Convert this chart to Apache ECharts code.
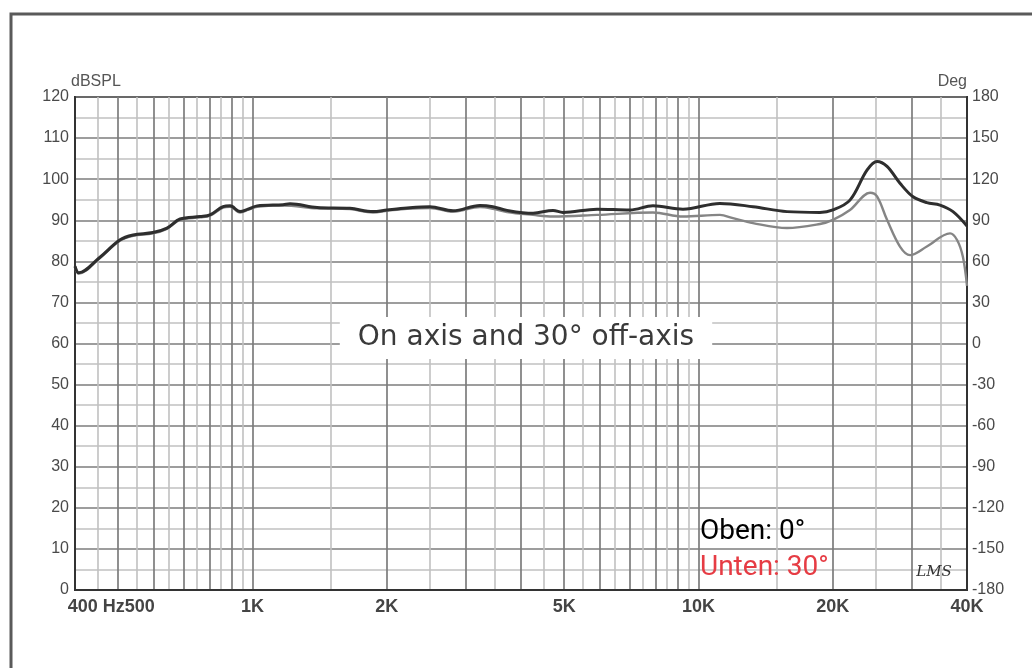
<!DOCTYPE html>
<html><head><meta charset="utf-8">
<script src="https://cdn.jsdelivr.net/npm/echarts@6/dist/echarts.min.js"></script>
<style>html,body{margin:0;padding:0;background:#fff}#c{width:1032px;height:668px}</style>
</head><body><div id="c"></div>
<script>
// 0° (Oben) frequency response
const freq0 = [400,408,455,504,540,598,643,688,763,803,859,891,938,977,1024,1171,1214,1396,1654,1863,2003,2221,2500,2816,3236,3460,3721,4256,4719,4968,5924,7020,7907,9232,11170,13250,15790,18720,20020,21860,23870,25140,26470,28300,30280,32510,34790,37210,40000];
const spl0  = [78.8,77.2,81.0,85.2,86.4,87.0,88.1,90.3,90.9,91.3,93.3,93.5,92.1,92.7,93.5,93.8,94.0,93.1,92.9,92.1,92.5,93.0,93.3,92.3,93.6,93.3,92.4,91.7,92.4,91.9,92.7,92.5,93.5,92.7,94.1,93.3,92.1,91.9,92.5,94.9,102.2,104.3,103.1,99.0,95.7,94.3,93.7,92.1,88.6];
// 30° (Unten) frequency response
const freq30 = [400,408,455,504,540,598,643,688,763,803,859,891,938,977,1024,1171,1396,1654,1863,2003,2221,2500,2816,3236,3460,3721,4256,4719,5924,7907,9232,11170,11950,13250,15790,18720,20020,21860,24250,25140,26470,28300,29810,32510,36640,38000,39160,40000];
const spl30  = [78.6,77.0,80.8,85.0,86.2,86.8,87.9,90.1,90.7,91.1,93.1,93.3,91.9,92.5,93.3,93.6,92.9,92.7,91.9,92.3,92.8,93.0,92.1,93.2,92.8,92.0,91.3,90.9,91.3,91.9,90.9,91.3,90.5,89.3,88.1,89.1,90.1,92.5,96.7,95.8,90.1,83.6,81.5,83.6,86.8,85.2,81.1,74.0];
// grid / tick positions (Hz)
const majorGridHz = [400,500,600,700,800,900,1000,2000,3000,4000,5000,6000,7000,8000,9000,10000,20000,30000,40000];
const minorGridHz = [450,550,650,750,850,950,1500,2500,3500,4500,5500,6500,7500,8500,9500,15000,25000,35000];
const xLabelHz = [500,1000,2000,5000,10000,20000,40000];
const xLabelText = ['400 Hz500','1K','2K','5K','10K','20K','40K'];
const legendTexts = ['Oben: 0°','Unten: 30°'];
const titleText = 'On axis and 30° off-axis';

const pairs = (f, v) => f.map((x, i) => [x, v[i]]);
const chart = echarts.init(document.getElementById('c'), null, {renderer:'canvas'});
const labelFont = {fontFamily:'"Liberation Sans", Arial, sans-serif'};
chart.setOption({
  backgroundColor:'#fff',
  animation:false,
  grid:{left:75,right:65,top:97,bottom:78,show:true,borderColor:'#333',borderWidth:2,backgroundColor:'transparent'},
  xAxis:[{
    type:'log', logBase:10, min:400, max:40000,
    axisLine:{show:true,lineStyle:{color:'#333',width:2}},
    axisTick:{show:false, customValues:majorGridHz},
    splitLine:{show:true,lineStyle:{color:'#7c7c7c',width:1.7}},
    axisLabel:{show:true, customValues:xLabelHz, margin:8, color:'#444', fontSize:18, fontWeight:'bold', ...labelFont,
      formatter:(v)=>{const i = xLabelHz.indexOf(Math.round(v)); const t = i>=0 ? xLabelText[i] : ''; return i===0 ? '{s|'+t+'}' : t;},
      rich:{s:{color:'#444',fontSize:18,fontWeight:'bold',...labelFont,padding:[0,14,0,0]}}}
  },{
    type:'log', logBase:10, min:400, max:40000, position:'bottom',
    axisLine:{show:false}, axisLabel:{show:false},
    axisTick:{show:false, customValues:minorGridHz},
    splitLine:{show:true,lineStyle:{color:'#c0c0c0',width:1.6}}
  }],
  yAxis:[{
    type:'value', min:0, max:120, interval:10, position:'left',
    name:'dBSPL', nameLocation:'end', nameGap:11,
    nameTextStyle:{align:'left',verticalAlign:'middle',color:'#555',fontSize:16,...labelFont,padding:[0,0,0,-4]},
    axisLine:{show:true,lineStyle:{color:'#333',width:2}},
    axisTick:{show:false},
    axisLabel:{color:'#4a4a4a',fontSize:16,margin:6,...labelFont},
    splitLine:{show:true,lineStyle:{color:'#7c7c7c',width:1.7}},
    minorTick:{show:false,splitNumber:2},
    minorSplitLine:{show:true,lineStyle:{color:'#c0c0c0',width:1.6}}
  },{
    type:'value', min:-180, max:180, interval:30, position:'right',
    name:'Deg', nameLocation:'end', nameGap:12,
    nameTextStyle:{align:'right',verticalAlign:'middle',color:'#555',fontSize:16,...labelFont},
    axisLine:{show:true,lineStyle:{color:'#333',width:2}},
    axisTick:{show:false},
    axisLabel:{color:'#4a4a4a',fontSize:16,margin:5,...labelFont},
    splitLine:{show:false}
  }],
  series:[{
    name:'30°', type:'line', xAxisIndex:0, yAxisIndex:0, data:pairs(freq30, spl30),
    showSymbol:false, smooth:0.35, lineStyle:{color:'#858585',width:2.4}, z:3
  },{
    name:'0°', type:'line', xAxisIndex:0, yAxisIndex:0, data:pairs(freq0, spl0),
    showSymbol:false, smooth:0.35, lineStyle:{color:'#2e2e2e',width:3}, z:4
  }],
  graphic:[
    {type:'polyline', shape:{points:[[11,668],[11,14],[1032,14]]}, style:{stroke:'#5a5a5a',lineWidth:3,fill:null}, z:50},
    {type:'text', x:526, y:338, z:60, style:{text:titleText, font:'28px "DejaVu Sans", sans-serif', fill:'#3a3a3a', align:'center', verticalAlign:'middle', backgroundColor:'#fff', padding:[7,18,7,18]}},
    {type:'text', x:700, y:532, z:60, style:{text:legendTexts[0], font:'28px Roboto, sans-serif', fill:'#000', align:'left', verticalAlign:'middle'}},
    {type:'text', x:700, y:568, z:60, style:{text:legendTexts[1], font:'28px Roboto, sans-serif', fill:'#e63c44', align:'left', verticalAlign:'middle'}},
    {type:'text', x:934, y:572, z:60, style:{text:'LMS', font:'italic 15px "DejaVu Serif", serif', fill:'#333', align:'center', verticalAlign:'middle'}}
  ]
});
</script></body></html>
